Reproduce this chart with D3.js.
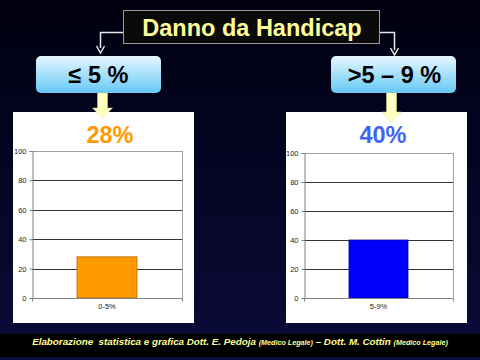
<!DOCTYPE html>
<html>
<head>
<meta charset="utf-8">
<script src="https://cdn.jsdelivr.net/npm/d3@7"></script>
<style>
  body { margin: 0; background: #000; }
  svg { display: block; font-family: "Liberation Sans", Arial, sans-serif; }
</style>
</head>
<body>
<div id="chart"></div>
<script>
// data
var title = "Danno da Handicap";
var groupLabels = ["≤ 5 %", ">5 – 9 %"];
var categories = ["0-5%", "5-9%"];
var values = [28, 40];
var headlines = ["28%", "40%"];
var yTicks = [0, 20, 40, 60, 80, 100];

var svgWidth = 480;
var svgHeight = 360;

var svg = d3.select("#chart")
    .append("svg")
    .attr("width", svgWidth)
    .attr("height", svgHeight);

var defs = svg.append("defs");
var bg = defs.append("linearGradient")
    .attr("id", "bg")
    .attr("x1", 0).attr("y1", 0).attr("x2", 0).attr("y2", 1);
bg.append("stop").attr("offset", "0%").attr("stop-color", "#000010");
bg.append("stop").attr("offset", "100%").attr("stop-color", "#0b0b3a");

var boxGrad = defs.append("linearGradient")
    .attr("id", "boxGrad")
    .attr("x1", 0).attr("y1", 0).attr("x2", 0).attr("y2", 1);
boxGrad.append("stop").attr("offset", "0%").attr("stop-color", "#e6f7ff");
boxGrad.append("stop").attr("offset", "100%").attr("stop-color", "#66c8f5");

svg.append("rect")
    .attr("width", svgWidth)
    .attr("height", svgHeight)
    .attr("fill", "url(#bg)");

// footer band
svg.append("rect")
    .attr("x", 0).attr("y", 334)
    .attr("width", svgWidth).attr("height", 23)
    .attr("fill", "#000000");

// title box
svg.append("rect")
    .attr("x", 123.5).attr("y", 10.5)
    .attr("width", 256).attr("height", 33)
    .attr("fill", "#0a0a0a")
    .attr("stroke", "#9a9a9a")
    .attr("stroke-width", 1);
svg.append("text")
    .attr("x", 252).attr("y", 36)
    .attr("text-anchor", "middle")
    .attr("font-size", 23.5)
    .attr("font-weight", "bold")
    .attr("fill", "#ffff99")
    .text(title);

// connectors
var conn = [
    {path: "M123,32.5 H100.5 V48", tipX: 100.5, tipY: 53},
    {path: "M380,32.5 H394.5 V50", tipX: 394.5, tipY: 55}
];
conn.forEach(function(c) {
    svg.append("path")
        .attr("d", c.path)
        .attr("fill", "none")
        .attr("stroke", "#e8e8e8")
        .attr("stroke-width", 1.5);
    svg.append("path")
        .attr("d", `M${c.tipX - 4},${c.tipY - 7} L${c.tipX},${c.tipY} L${c.tipX + 4},${c.tipY - 7}`)
        .attr("fill", "none")
        .attr("stroke", "#e8e8e8")
        .attr("stroke-width", 1.5);
});

var panels = [
    {box: [36, 56, 125, 37], arrowX: 102.5, arrowTip: 118, panel: [13, 112, 181, 211],
        plot: {x0: 32, x1: 182, y0: 151, y1: 298}, color: "#ff9900", stroke: "#b36b00",
        headColor: "#ff9900", headX: 110, barW: 60},
    {box: [331, 56, 125, 37], arrowX: 391.5, arrowTip: 122, panel: [286, 112, 181, 211],
        plot: {x0: 304, x1: 453, y0: 153, y1: 298}, color: "#0000ff", stroke: "#00009a",
        headColor: "#3f63f0", headX: 383, barW: 59}
];

panels.forEach(function(p, i) {
    // white chart panel
    svg.append("rect")
        .attr("x", p.panel[0]).attr("y", p.panel[1])
        .attr("width", p.panel[2]).attr("height", p.panel[3])
        .attr("fill", "#ffffff");

    // blue label box
    svg.append("rect")
        .attr("x", p.box[0]).attr("y", p.box[1])
        .attr("width", p.box[2]).attr("height", p.box[3])
        .attr("rx", 5)
        .attr("fill", "url(#boxGrad)");
    svg.append("text")
        .attr("x", p.box[0] + p.box[2] / 2 + (i === 0 ? 0 : 1)).attr("y", p.box[1] + 27)
        .attr("text-anchor", "middle")
        .attr("font-size", 23.5)
        .attr("font-weight", "bold")
        .attr("fill", "#000000")
        .text(groupLabels[i]);

    // yellow block arrow
    var ax = p.arrowX, top = p.box[1] + p.box[3], tip = p.arrowTip, neck = tip - 10;
    svg.append("path")
        .attr("d", `M${ax - 5},${top} H${ax + 5} V${neck} H${ax + 10} L${ax},${tip} L${ax - 10},${neck} H${ax - 5} Z`)
        .attr("fill", "#ffffc0")
        .attr("stroke", "#d8d8a0")
        .attr("stroke-width", 0.5);

    // headline
    svg.append("text")
        .attr("x", p.headX).attr("y", 143)
        .attr("text-anchor", "middle")
        .attr("font-size", 23.5)
        .attr("font-weight", "bold")
        .attr("fill", p.headColor)
        .text(headlines[i]);

    var yScale = d3.scaleLinear()
        .domain([0, 100])
        .range([p.plot.y1, p.plot.y0]);
    var xScale = d3.scaleBand()
        .domain([categories[i]])
        .range([p.plot.x0, p.plot.x1]);

    var g = svg.append("g");

    // grid lines
    g.selectAll(".grid")
        .data(yTicks.filter(function(t) { return t > 0; }))
        .enter()
        .append("line")
        .attr("x1", p.plot.x0).attr("x2", p.plot.x1)
        .attr("y1", function(d) { return Math.round(yScale(d)) + 0.5; })
        .attr("y2", function(d) { return Math.round(yScale(d)) + 0.5; })
        .attr("stroke", function(d) { return d === 100 ? "#a0a0a0" : "#333333"; })
        .attr("stroke-width", 1);

    // right border
    g.append("line")
        .attr("x1", p.plot.x1 + 0.5).attr("x2", p.plot.x1 + 0.5)
        .attr("y1", p.plot.y0).attr("y2", p.plot.y1)
        .attr("stroke", "#a0a0a0");

    // bar
    var bx = xScale(categories[i]) + xScale.bandwidth() / 2 - p.barW / 2;
    g.append("rect")
        .attr("x", bx)
        .attr("y", yScale(values[i]))
        .attr("width", p.barW)
        .attr("height", yScale(0) - yScale(values[i]))
        .attr("fill", p.color)
        .attr("stroke", p.stroke)
        .attr("stroke-width", 0.8);

    // axes
    var leftAxis = d3.axisLeft(yScale)
        .tickValues(yTicks)
        .tickSize(3)
        .tickPadding(3);
    var yAxisG = g.append("g")
        .attr("transform", `translate(${p.plot.x0 + 0.5},0)`)
        .call(leftAxis);
    yAxisG.select(".domain").attr("stroke", "#808080");
    yAxisG.selectAll(".tick line").attr("stroke", "#808080");
    yAxisG.selectAll("text")
        .attr("font-size", 7.5)
        .attr("font-family", "Liberation Sans, Arial, sans-serif")
        .attr("fill", "#222222");

    var bottomAxis = d3.axisBottom(xScale)
        .tickSize(0)
        .tickPadding(5);
    var xAxisG = g.append("g")
        .attr("transform", `translate(0,${p.plot.y1 + 0.5})`)
        .call(bottomAxis);
    xAxisG.select(".domain").attr("stroke", "#808080").attr("d", `M${p.plot.x0},0.5V0H${p.plot.x1}V0.5`);
    xAxisG.selectAll("text")
        .attr("font-size", 7.5)
        .attr("font-family", "Liberation Sans, Arial, sans-serif")
        .attr("fill", "#222222");
    // small end ticks
    [p.plot.x0, p.plot.x1].forEach(function(x) {
        xAxisG.append("line")
            .attr("x1", x + 0.5).attr("x2", x + 0.5)
            .attr("y1", 0).attr("y2", 3)
            .attr("stroke", "#808080");
    });
});

// footer
var footer = svg.append("text")
    .attr("x", 240).attr("y", 345)
    .attr("text-anchor", "middle")
    .attr("font-style", "italic")
    .attr("font-weight", "bold")
    .attr("fill", "#ffff99");
var parts = [
    ["Elaborazione  statistica e grafica Dott. E. Pedoja ", 9.8],
    ["(Medico Legale)", 7.2],
    [" – Dott. M. Cottin ", 9.8],
    ["(Medico Legale)", 7.2]
];
parts.forEach(function(pt) {
    footer.append("tspan")
        .attr("font-size", pt[1])
        .attr("xml:space", "preserve")
        .text(pt[0]);
});
</script>
</body>
</html>
